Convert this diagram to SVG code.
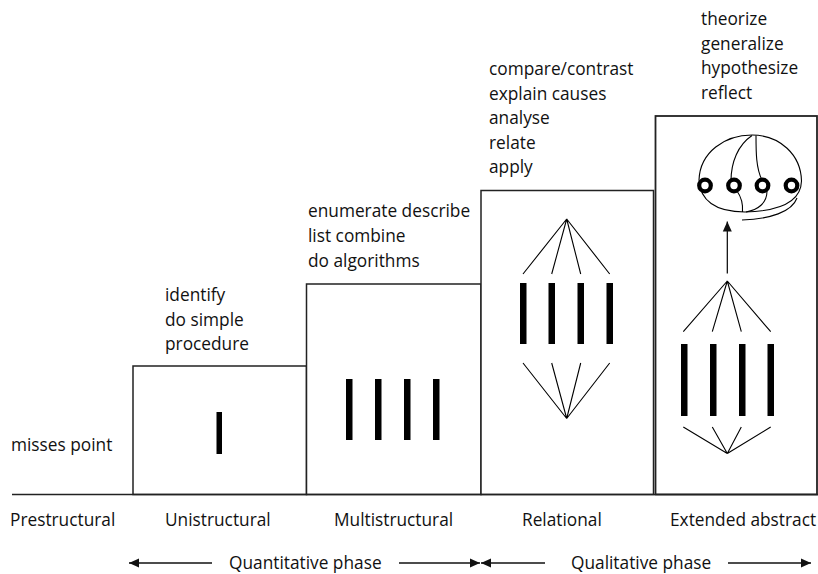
<svg xmlns="http://www.w3.org/2000/svg" width="818" height="574" viewBox="0 0 818 574">
<style>
text{font-family:"Open Sans","Liberation Sans",sans-serif;font-size:17.3px;fill:#111}
.box{fill:#fff;stroke:#222;stroke-width:1.5}
.bar{fill:#000}
.fan{fill:none;stroke:#000;stroke-width:1.1}
.arr{stroke:#111;stroke-width:1.3;fill:none}
</style>
<defs>
<marker id="ah" viewBox="0 0 10 10" refX="10" refY="5" markerWidth="10" markerHeight="10" markerUnits="userSpaceOnUse" orient="auto-start-reverse">
<path d="M0,0.5 L10,5 L0,9.5 Z" fill="#111"/>
</marker>
</defs>
<rect width="818" height="574" fill="#fff"/>

<g id="prestructural">
<text x="11" y="451">misses point</text>
<text x="10" y="526">Prestructural</text>
</g>

<g id="unistructural">
<rect class="box" x="133" y="366" width="173.5" height="128.5"/>
<rect class="bar" x="216.5" y="412" width="5.5" height="42"/>
<text x="165" y="301">identify</text>
<text x="165" y="325.5">do simple</text>
<text x="165" y="350">procedure</text>
<text x="165" y="526">Unistructural</text>
</g>

<g id="multistructural">
<rect class="box" x="306.5" y="284" width="174.5" height="210.5"/>
<rect class="bar" x="346" y="379" width="6.5" height="61"/>
<rect class="bar" x="375" y="379" width="6.5" height="61"/>
<rect class="bar" x="404" y="379" width="6.5" height="61"/>
<rect class="bar" x="433" y="379" width="6.5" height="61"/>
<text x="308" y="217">enumerate describe</text>
<text x="308" y="242">list combine</text>
<text x="308" y="267">do algorithms</text>
<text x="334" y="526">Multistructural</text>
</g>

<g id="relational">
<rect class="box" x="481" y="190.5" width="172.5" height="304"/>
<rect class="bar" x="520" y="283" width="6.5" height="61"/>
<rect class="bar" x="548.5" y="283" width="6.5" height="61"/>
<rect class="bar" x="577.5" y="283" width="6.5" height="61"/>
<rect class="bar" x="606.5" y="283" width="6.5" height="61"/>
<path class="fan" d="M566.7,219 L523,274 M566.7,219 L551.7,274 M566.7,219 L580.7,274 M566.7,219 L609.7,274"/>
<path class="fan" d="M566.7,418.5 L523,363 M566.7,418.5 L551.7,363 M566.7,418.5 L580.7,363 M566.7,418.5 L609.7,363"/>
<text x="489" y="75">compare/contrast</text>
<text x="489" y="99.5">explain causes</text>
<text x="489" y="124">analyse</text>
<text x="489" y="148.5">relate</text>
<text x="489" y="173">apply</text>
<text x="522" y="526">Relational</text>
</g>

<g id="extended-abstract">
<rect class="box" x="655.5" y="116" width="161.5" height="378.5" style="stroke-width:1.8"/>
<rect class="bar" x="681" y="344" width="6.5" height="72"/>
<rect class="bar" x="710" y="344" width="6.5" height="72"/>
<rect class="bar" x="739" y="344" width="6.5" height="72"/>
<rect class="bar" x="767.5" y="344" width="6.5" height="72"/>
<path class="fan" d="M727.3,281 L683.3,331.7 M727.3,281 L712.3,331.7 M727.3,281 L741.3,331.7 M727.3,281 L770.7,331.7"/>
<path class="fan" d="M727.3,453.5 L683.3,427 M727.3,453.5 L712.3,427 M727.3,453.5 L741.3,427 M727.3,453.5 L770.7,427"/>
<line x1="727.3" y1="273.5" x2="727.3" y2="221.5" stroke="#000" stroke-width="1.2" marker-end="url(#ah)"/>
<path class="fan" d="M699,180 C700,152 725,135 752,135 C780,135 801,155 801.5,181 C801,200 782,211 745,212 C715,212 700,200 699,180 Z"/>
<path class="fan" d="M752,135.5 C738,145 731,162 731,181 M737,191 C742,198 743,205 742.5,212"/>
<path class="fan" d="M756,135.5 C756,152 756,168 762,180 M767,191 C767,203 758,210 746,212"/>
<path class="fan" d="M742,220 C770,219 792,212 797,198"/>
<g fill="#fff" stroke="#000" stroke-width="4.2">
<circle cx="705" cy="185.5" r="5.8"/>
<circle cx="734" cy="185.5" r="5.8"/>
<circle cx="762.5" cy="185.5" r="5.8"/>
<circle cx="791.5" cy="185.5" r="5.8"/>
</g>
<text x="701" y="25">theorize</text>
<text x="701" y="49.5">generalize</text>
<text x="701" y="74">hypothesize</text>
<text x="701" y="99">reflect</text>
<text x="670" y="526">Extended abstract</text>
</g>

<g id="connectors">
<line x1="12" y1="494.5" x2="818" y2="494.5" stroke="#222" stroke-width="1.5"/>
<line class="arr" x1="212" y1="563" x2="129" y2="563" marker-end="url(#ah)"/>
<line class="arr" x1="399" y1="563" x2="480" y2="563" marker-end="url(#ah)"/>
<line class="arr" x1="545" y1="563" x2="481" y2="563" marker-end="url(#ah)"/>
<line class="arr" x1="728" y1="563" x2="811" y2="563" marker-end="url(#ah)"/>
<text x="229" y="569">Quantitative phase</text>
<text x="571" y="569">Qualitative phase</text>
</g>
</svg>
